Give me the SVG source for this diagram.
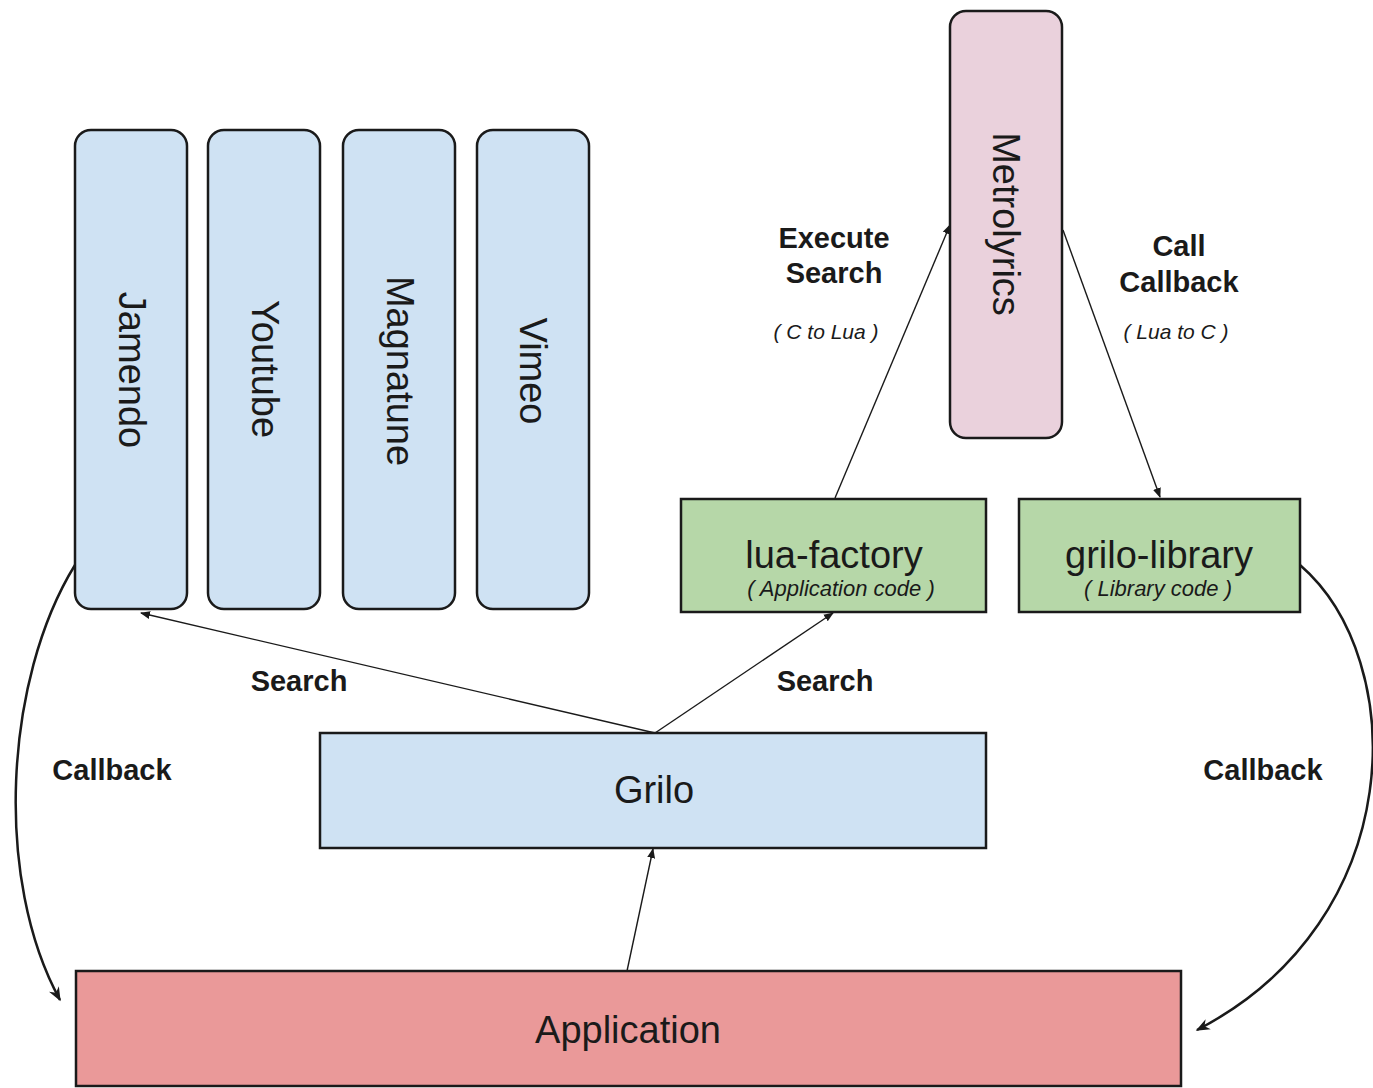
<svg xmlns="http://www.w3.org/2000/svg" width="1373" height="1088" viewBox="0 0 1373 1088">
<style>
.blue{fill:#cfe2f3;stroke:#1a1a1a;stroke-width:2.5}
.pink{fill:#ead1dc;stroke:#1a1a1a;stroke-width:2.5}
.green{fill:#b6d7a8;stroke:#1a1a1a;stroke-width:2.5}
.red{fill:#ea9999;stroke:#1a1a1a;stroke-width:2.5}
.t{font-family:"Liberation Sans",Arial,sans-serif;fill:#1a1a1a;text-anchor:middle}
.big{font-size:38px}
.sub{font-size:22px;font-style:italic}
.lbl{font-size:29px;font-weight:bold}
.note{font-size:21px;font-style:italic}
.thin{fill:none;stroke:#1a1a1a;stroke-width:1.4}
.thick{fill:none;stroke:#1a1a1a;stroke-width:2.5}
</style>
<defs>
<marker id="ah" viewBox="0 0 10 10" refX="9" refY="5" markerWidth="10" markerHeight="10" markerUnits="userSpaceOnUse" orient="auto">
<path d="M0,1 L10,5 L0,9 z" fill="#1a1a1a"/>
</marker>
<marker id="ahb" viewBox="0 0 10 10" refX="9" refY="5" markerWidth="16" markerHeight="14" markerUnits="userSpaceOnUse" orient="auto">
<path d="M0,1 L10,5 L0,9 L3,5 z" fill="#1a1a1a"/>
</marker>
</defs>
<rect width="1373" height="1088" fill="#ffffff"/>
<g id="connectors">
<line class="thin" x1="655" y1="733" x2="141" y2="613" marker-end="url(#ah)"/>
<line class="thin" x1="655" y1="733" x2="833" y2="613" marker-end="url(#ah)"/>
<line class="thin" x1="627" y1="971" x2="653" y2="849" marker-end="url(#ah)"/>
<line class="thin" x1="835" y1="498" x2="950" y2="225" marker-end="url(#ah)"/>
<line class="thin" x1="1063" y1="230" x2="1160" y2="497" marker-end="url(#ah)"/>
<path class="thick" d="M75,565 C4,680 -6,880 60,1000" marker-end="url(#ahb)"/>
<path class="thick" d="M1300,565 C1410,660 1410,920 1197,1030" marker-end="url(#ahb)"/>
</g>
<g id="labels">
<text class="t lbl" x="299" y="691">Search</text>
<text class="t lbl" x="825" y="691">Search</text>
<text class="t lbl" x="112" y="780">Callback</text>
<text class="t lbl" x="1263" y="780">Callback</text>
<text class="t lbl" x="834" y="248">Execute</text>
<text class="t lbl" x="834" y="283">Search</text>
<text class="t note" x="826" y="339">( C to Lua )</text>
<text class="t lbl" x="1179" y="256">Call</text>
<text class="t lbl" x="1179" y="292">Callback</text>
<text class="t note" x="1176" y="339">( Lua to C )</text>
</g>
<g id="jamendo">
<rect class="blue" x="75" y="130" width="112" height="479" rx="16"/>
<text class="t big" transform="translate(132,370) rotate(90)" y="13">Jamendo</text>
</g>
<g id="youtube">
<rect class="blue" x="208" y="130" width="112" height="479" rx="16"/>
<text class="t big" transform="translate(265,369) rotate(90)" y="13">Youtube</text>
</g>
<g id="magnatune">
<rect class="blue" x="343" y="130" width="112" height="479" rx="16"/>
<text class="t big" transform="translate(400,371) rotate(90)" y="13">Magnatune</text>
</g>
<g id="vimeo">
<rect class="blue" x="477" y="130" width="112" height="479" rx="16"/>
<text class="t big" transform="translate(533,371) rotate(90)" y="13">Vimeo</text>
</g>
<g id="metrolyrics">
<rect class="pink" x="950" y="11" width="112" height="427" rx="16"/>
<text class="t big" transform="translate(1006,224) rotate(90)" y="13">Metrolyrics</text>
</g>
<g id="lua-factory">
<rect class="green" x="681" y="499" width="305" height="113"/>
<text class="t big" x="834" y="568">lua-factory</text>
<text class="t sub" x="841" y="596">( Application code )</text>
</g>
<g id="grilo-library">
<rect class="green" x="1019" y="499" width="281" height="113"/>
<text class="t big" x="1159" y="568">grilo-library</text>
<text class="t sub" x="1158" y="596">( Library code )</text>
</g>
<g id="grilo">
<rect class="blue" x="320" y="733" width="666" height="115"/>
<text class="t big" x="654" y="803">Grilo</text>
</g>
<g id="application">
<rect class="red" x="76" y="971" width="1105" height="115"/>
<text class="t big" x="628" y="1043">Application</text>
</g>
</svg>
